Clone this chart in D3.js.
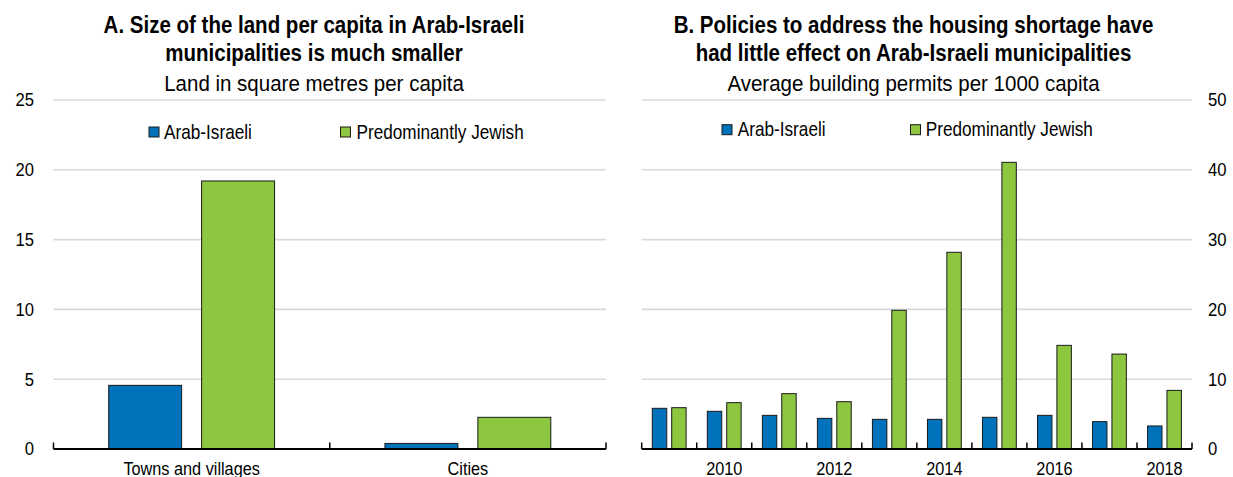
<!DOCTYPE html>
<html><head><meta charset="utf-8">
<script src="https://cdn.jsdelivr.net/npm/d3@7"></script>
<style>
body{margin:0;background:#fff;}
svg text{font-family:"Liberation Sans",Arial,sans-serif;fill:#000;}
</style></head>
<body><svg id="c" width="1233" height="477"></svg>
<script>
// Panel A data
const catsA = ["Towns and villages", "Cities"];
const arabA = [4.56, 0.4];
const jewishA = [19.2, 2.27];
const ticksA = [0, 5, 10, 15, 20, 25];
// Panel B data
const years = [2009, 2010, 2011, 2012, 2013, 2014, 2015, 2016, 2017, 2018];
const yearLabels = ["", "2010", "", "2012", "", "2014", "", "2016", "", "2018"];
const arabB = [5.83, 5.4, 4.82, 4.39, 4.25, 4.25, 4.54, 4.82, 3.92, 3.3];
const jewishB = [5.92, 6.64, 7.93, 6.78, 19.87, 28.18, 41.07, 14.85, 13.6, 8.4];
const ticksB = [0, 10, 20, 30, 40, 50];
const seriesNames = ["Arab-Israeli", "Predominantly Jewish"];
const colors = ["#0072bc", "#8dc63f"];

const svg = d3.select("#c");
const y0 = 449, yTop = 100;

function txt(g, x, y, s, size, sx, anchor, weight){
  return g.append("text").attr("transform", `translate(${x},${y}) scale(${sx},1)`)
    .attr("text-anchor", anchor || "start").attr("font-size", size)
    .attr("font-weight", weight || "normal").text(s);
}

function panel(opts){
  const g = svg.append("g");
  const y = d3.scaleLinear().domain([0, opts.max]).range([y0, yTop]);
  const x = d3.scaleBand().domain(opts.cats).range([opts.x0, opts.x1]);
  // gridlines
  g.selectAll("line.grid").data(opts.ticks.filter(t => t > 0)).join("line")
    .attr("x1", opts.x0).attr("x2", opts.x1)
    .attr("y1", d => y(d)).attr("y2", d => y(d))
    .attr("stroke", "#d9d9d9").attr("stroke-width", 1.6);
  // y axis labels
  const ax = opts.right ? d3.axisRight(y) : d3.axisLeft(y);
  const ya = g.append("g").attr("transform", `translate(${opts.labelX},0)`)
    .call(ax.tickValues(opts.ticks).tickSize(0).tickPadding(0));
  ya.select(".domain").remove();
  ya.selectAll("text").attr("font-size", 18.5).style("font-family", null)
    .attr("transform", "scale(0.9,1)");
  // bars
  const inner = d3.scaleBand().domain([0, 1]).range([opts.pad, x.bandwidth() - opts.pad]).paddingInner(opts.gap);
  [opts.a, opts.b].forEach((vals, si) => {
    g.selectAll("rect.s" + si).data(vals).join("rect")
      .attr("x", (d, i) => x(opts.cats[i]) + inner(si))
      .attr("width", inner.bandwidth())
      .attr("y", d => y(d))
      .attr("height", d => y0 - y(d))
      .attr("fill", colors[si]).attr("stroke", "#1a1a1a").attr("stroke-width", 1);
  });
  // x axis
  const xa = g.append("g").attr("transform", `translate(0,${y0})`)
    .call(d3.axisBottom(x).tickSize(0).tickFormat((d, i) => opts.labels[i]).tickPadding(12.5));
  xa.select(".domain").remove();
  xa.selectAll("text").attr("font-size", 18.5).style("font-family", null)
    .attr("transform", "scale(0.88,1)");
  g.append("line").attr("x1", opts.x0).attr("x2", opts.x1).attr("y1", y0).attr("y2", y0)
    .attr("stroke", "#000").attr("stroke-width", 2);
  const edges = opts.cats.map(c => x(c)).concat([opts.x1]);
  g.selectAll("line.tk").data(edges).join("line")
    .attr("x1", d => d).attr("x2", d => d).attr("y1", y0).attr("y2", y0 - 6.5)
    .attr("stroke", "#000").attr("stroke-width", 1.5);
  // legend
  seriesNames.forEach((n, i) => {
    g.append("rect").attr("x", opts.leg[i]).attr("y", opts.legY - 5).attr("width", 10).attr("height", 10)
      .attr("fill", colors[i]).attr("stroke", "#1a1a1a").attr("stroke-width", 1);
    txt(g, opts.legT[i], opts.legY + 6.5, n, 20, 0.86);
  });
  // titles
  opts.title.forEach((t, i) => {
    txt(g, opts.tx, 32.5 + i * 28.5, t, 24, 0.855, "middle", "bold");
  });
  txt(g, opts.tx, 90.5, opts.sub, 22.3, 0.92, "middle");
}

panel({cats: catsA, labels: catsA, a: arabA, b: jewishA, max: 25, ticks: ticksA,
  x0: 53.5, x1: 606, pad: 55.2, gap: 0.215, right: false, labelX: 34,
  leg: [149, 340.5], legT: [164, 356.5], legY: 132,
  title: ["A. Size of the land per capita in Arab-Israeli", "municipalities is much smaller"],
  sub: "Land in square metres per capita", tx: 314});

panel({cats: years, labels: yearLabels, a: arabB, b: jewishB, max: 50, ticks: ticksB,
  x0: 641.7, x1: 1192, pad: 10.6, gap: 0.256, right: true, labelX: 1208,
  leg: [722, 910.5], legT: [737.7, 925.7], legY: 129.7,
  title: ["B. Policies to address the housing shortage have", "had little effect on Arab-Israeli municipalities"],
  sub: "Average building permits per 1000 capita", tx: 913.5});
</script></body></html>
